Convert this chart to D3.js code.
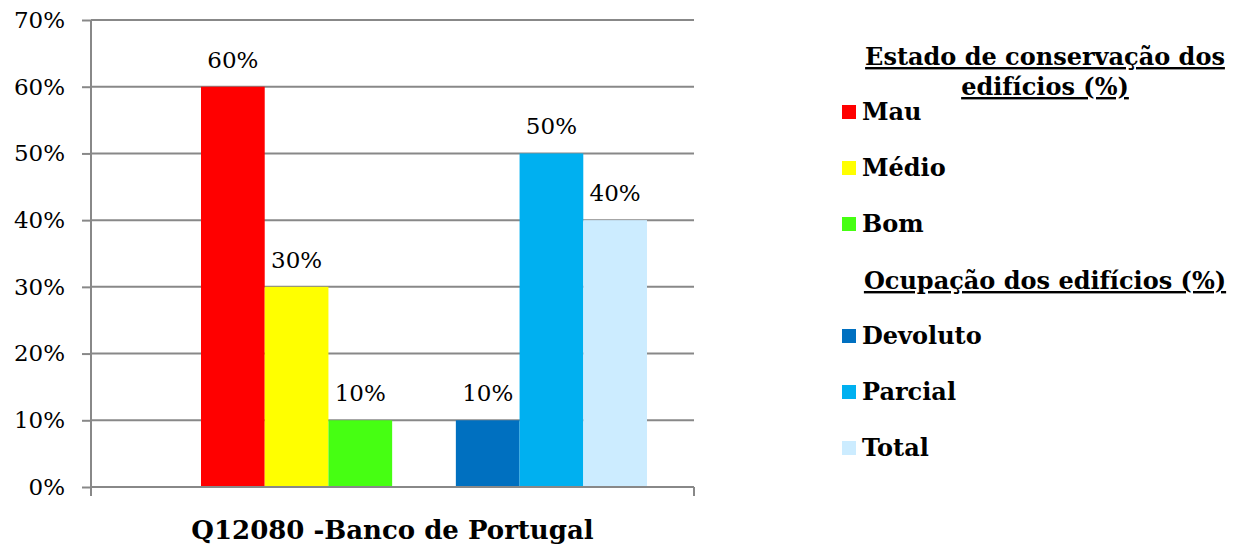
<!DOCTYPE html>
<html lang="pt">
<head>
  <meta charset="UTF-8">
  <title>Q12080 - Banco de Portugal</title>
  <script src="https://cdn.jsdelivr.net/npm/d3@7/dist/d3.min.js"></script>
  <style>
    body { margin: 0; background: #fff; }
    svg text { font-family: Georgia, 'DejaVu Serif', serif; fill: #000; }
  </style>
</head>
<body>
  <div id="chart"></div>
  <script>
    // series in plot order, "" marks the empty slot between the two groups
    const series = ['Mau', 'Médio', 'Bom', '', 'Devoluto', 'Parcial', 'Total'];
    const values = [0.6, 0.3, 0.1, null, 0.1, 0.5, 0.4];
    const colors = ['#ff0000', '#ffff00', '#46ff12', null, '#0070c0', '#00b0f0', '#ccecff'];
    const yTicks = [0, 0.1, 0.2, 0.3, 0.4, 0.5, 0.6, 0.7];
    const legendGroups = [
      { title: ['Estado de conservação dos', 'edifícios (%)'], items: ['Mau', 'Médio', 'Bom'] },
      { title: ['Ocupação dos edifícios (%)'], items: ['Devoluto', 'Parcial', 'Total'] }
    ];
    const category = 'Q12080 -Banco de Portugal';

    const W = 1236, H = 549;
    const plot = { left: 91, right: 694, top: 20, bottom: 487 };

    const svg = d3.select('#chart').append('svg')
      .attr('width', W).attr('height', H);

    const y = d3.scaleLinear().domain([0, 0.7]).range([plot.bottom, plot.top]);
    const x = d3.scaleBand().domain(series.map((s, i) => i)).range([201, 647]).padding(0);

    // gridlines + y axis
    const yAxis = d3.axisLeft(y).tickValues(yTicks).tickFormat(d3.format('.0%'))
      .tickSize(9).tickPadding(17);
    const gy = svg.append('g').attr('transform', `translate(${plot.left},0)`).call(yAxis);
    gy.select('.domain').remove();
    gy.selectAll('.tick line').attr('stroke', '#888').attr('stroke-width', 2);
    gy.selectAll('.tick text').style('font-size', '23px');

    svg.append('g').selectAll('line').data(yTicks).join('line')
      .attr('x1', plot.left).attr('x2', plot.right)
      .attr('y1', d => y(d)).attr('y2', d => y(d))
      .attr('stroke', '#888').attr('stroke-width', 2);

    svg.append('line')
      .attr('x1', plot.left).attr('x2', plot.left)
      .attr('y1', plot.top).attr('y2', plot.bottom + 9)
      .attr('stroke', '#888').attr('stroke-width', 2);
    svg.append('line')
      .attr('x1', plot.right).attr('x2', plot.right)
      .attr('y1', plot.bottom).attr('y2', plot.bottom + 9)
      .attr('stroke', '#888').attr('stroke-width', 2);

    const bars = series.map((s, i) => ({ i, s, v: values[i], c: colors[i] })).filter(d => d.v != null);

    svg.append('g').selectAll('rect').data(bars).join('rect')
      .attr('x', d => x(d.i))
      .attr('width', x.bandwidth())
      .attr('y', d => y(d.v))
      .attr('height', d => y(0) - y(d.v))
      .attr('fill', d => d.c);

    // redraw x axis line over bars
    svg.append('line')
      .attr('x1', plot.left).attr('x2', plot.right)
      .attr('y1', plot.bottom).attr('y2', plot.bottom)
      .attr('stroke', '#888').attr('stroke-width', 2);

    svg.append('g').selectAll('text').data(bars).join('text')
      .attr('x', d => x(d.i) + x.bandwidth() / 2)
      .attr('y', d => y(d.v) - 19)
      .attr('text-anchor', 'middle')
      .style('font-size', '23px')
      .text(d => d3.format('.0%')(d.v));

    svg.append('text')
      .attr('x', (plot.left + plot.right) / 2)
      .attr('y', 539)
      .attr('text-anchor', 'middle')
      .style('font-size', '26px').style('font-weight', 'bold')
      .text(category);

    // legend
    const lg = svg.append('g');
    let ly = 65;
    const rowH = 56;
    legendGroups.forEach(g => {
      g.title.forEach((t, k) => {
        lg.append('text')
          .attr('x', 1045).attr('y', ly + k * 30)
          .attr('text-anchor', 'middle')
          .style('font-size', '24px').style('font-weight', 'bold')
          .style('text-decoration', 'underline')
          .text(t);
      });
      ly += 55;
      g.items.forEach((item, k) => {
        const c = colors[series.indexOf(item)];
        lg.append('rect')
          .attr('x', 842).attr('y', ly - 15).attr('width', 14).attr('height', 14)
          .attr('fill', c);
        lg.append('text')
          .attr('x', 862).attr('y', ly)
          .style('font-size', '24px').style('font-weight', 'bold')
          .text(item);
        if (k < g.items.length - 1) ly += rowH;
      });
      ly += 57;
    });
  </script>
</body>
</html>
